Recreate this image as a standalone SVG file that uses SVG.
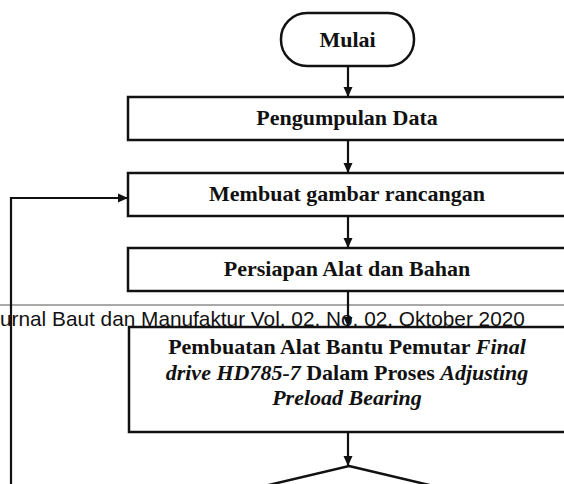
<svg xmlns="http://www.w3.org/2000/svg" width="564" height="484" viewBox="0 0 564 484">
<defs>
<marker id="ah" markerUnits="userSpaceOnUse" markerWidth="10" markerHeight="10" viewBox="0 0 10 10" refX="10" refY="5" orient="auto"><path d="M0,0.5 L10,5 L0,9.5 Z" fill="#111"/></marker>
<style>
.box{fill:#fff;stroke:#111;stroke-width:2.5}
.t{font-family:"Liberation Serif","Times New Roman",serif;font-weight:bold;font-size:22px;fill:#111;text-anchor:middle}
.i{font-style:italic}
.conn{fill:none;stroke:#111;stroke-width:2.2}
.hdr{font-family:"Liberation Sans",Arial,sans-serif;font-size:20.8px;fill:#111}
</style>
</defs>
<rect width="564" height="484" fill="#fff"/>
<line x1="0" y1="305" x2="564" y2="305" stroke="#555" stroke-width="1.2"/>
<text class="hdr" x="0" y="326">urnal Baut dan Manufaktur Vol. 02, No. 02, Oktober 2020</text>
<g id="mulai">
<rect class="box" x="281" y="13" width="133" height="53" rx="26" ry="26"/>
<text class="t" x="347.5" y="47">Mulai</text>
</g>
<g id="pengumpulan-data">
<rect class="box" x="128" y="97" width="440" height="43"/>
<text class="t" x="347" y="125">Pengumpulan Data</text>
</g>
<g id="membuat-gambar">
<rect class="box" x="128" y="173" width="440" height="43"/>
<text class="t" x="347" y="201">Membuat gambar rancangan</text>
</g>
<g id="persiapan">
<rect class="box" x="128" y="248" width="440" height="43"/>
<text class="t" x="347" y="276">Persiapan Alat dan Bahan</text>
</g>
<g id="pembuatan">
<rect class="box" x="129" y="327" width="440" height="105"/>
<text class="t" x="347" y="354">Pembuatan Alat Bantu Pemutar <tspan class="i">Final</tspan></text>
<text class="t" x="347" y="379.5"><tspan class="i">drive HD785-7</tspan> Dalam Proses <tspan class="i">Adjusting</tspan></text>
<text class="t" x="347" y="405"><tspan class="i">Preload Bearing</tspan></text>
</g>
<g id="keputusan">
<polygon class="box" points="349,466 539,511 349,556 159,511"/>
</g>
<g id="connectors">
<path class="conn" d="M348,66 V97" marker-end="url(#ah)"/>
<path class="conn" d="M348,140 V173" marker-end="url(#ah)"/>
<path class="conn" d="M348,216 V248" marker-end="url(#ah)"/>
<path class="conn" d="M348,291 V327" marker-end="url(#ah)"/>
<path class="conn" d="M348,432 V466" marker-end="url(#ah)"/>
<path class="conn" d="M11,490 V198 H128" marker-end="url(#ah)"/>
</g>
</svg>
